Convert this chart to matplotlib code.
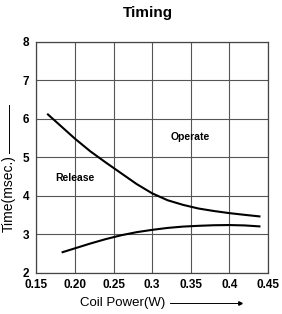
import matplotlib
matplotlib.use("Agg")
import matplotlib.pyplot as plt

# upper curve (decreasing with power)
op_x = [0.165, 0.18, 0.20, 0.22, 0.24, 0.26, 0.28, 0.30, 0.32, 0.34, 0.36, 0.38, 0.40, 0.42, 0.439]
op_y = [6.11, 5.84, 5.48, 5.15, 4.86, 4.58, 4.30, 4.06, 3.88, 3.76, 3.665, 3.60, 3.545, 3.50, 3.46]
# lower curve
rel_x = [0.184, 0.20, 0.22, 0.24, 0.26, 0.28, 0.30, 0.32, 0.34, 0.36, 0.38, 0.40, 0.42, 0.439]
rel_y = [2.53, 2.63, 2.755, 2.87, 2.97, 3.05, 3.11, 3.16, 3.195, 3.215, 3.23, 3.235, 3.225, 3.20]

xticks = [0.15, 0.20, 0.25, 0.3, 0.35, 0.4, 0.45]
xlabels = ["0.15", "0.20", "0.25", "0.3", "0.35", "0.4", "0.45"]
yticks = [2, 3, 4, 5, 6, 7, 8]

plt.rcParams['font.family'] = ['Liberation Sans', 'DejaVu Sans']

fig = plt.figure(figsize=(2.82, 3.14), dpi=100)
ax = fig.add_axes([0.129, 0.132, 0.821, 0.735])

ax.plot(op_x, op_y, color='black', lw=1.5)
ax.plot(rel_x, rel_y, color='black', lw=1.5)

ax.set_xlim(0.15, 0.45)
ax.set_ylim(2, 8)
ax.set_xticks(xticks)
ax.set_xticklabels(xlabels, fontsize=8.5, fontweight='bold')
ax.set_yticks(yticks)
ax.set_yticklabels([str(v) for v in yticks], fontsize=8.5, fontweight='bold')
ax.tick_params(axis='x', length=0, pad=5)
ax.tick_params(axis='y', length=0, pad=5)
ax.grid(True, color='#555555', lw=0.8)
for s in ax.spines.values():
    s.set_color('#444444')
    s.set_linewidth(0.9)

ax.text(0.349, 5.52, "Operate", fontsize=7.5, fontweight='bold', ha='center', va='center')
ax.text(0.20, 4.47, "Release", fontsize=7.5, fontweight='bold', ha='center', va='center')

fig.text(0.525, 0.958, "Timing", fontsize=11, fontweight='bold', ha='center', va='center')
fig.text(0.03, 0.382, "Time(msec.)", fontsize=10, rotation=90, ha='center', va='center')
fig.add_artist(plt.Line2D([0.033, 0.033], [0.513, 0.666], color='black', lw=0.7))
fig.text(0.434, 0.035, "Coil Power(W)", fontsize=9.5, ha='center', va='center')
fig.add_artist(plt.Line2D([0.603, 0.851], [0.035, 0.035], color='black', lw=0.7))
fig.add_artist(plt.Line2D([0.851], [0.035], marker='>', ms=2.5, color='black'))

fig.savefig('out.png', dpi=100)
